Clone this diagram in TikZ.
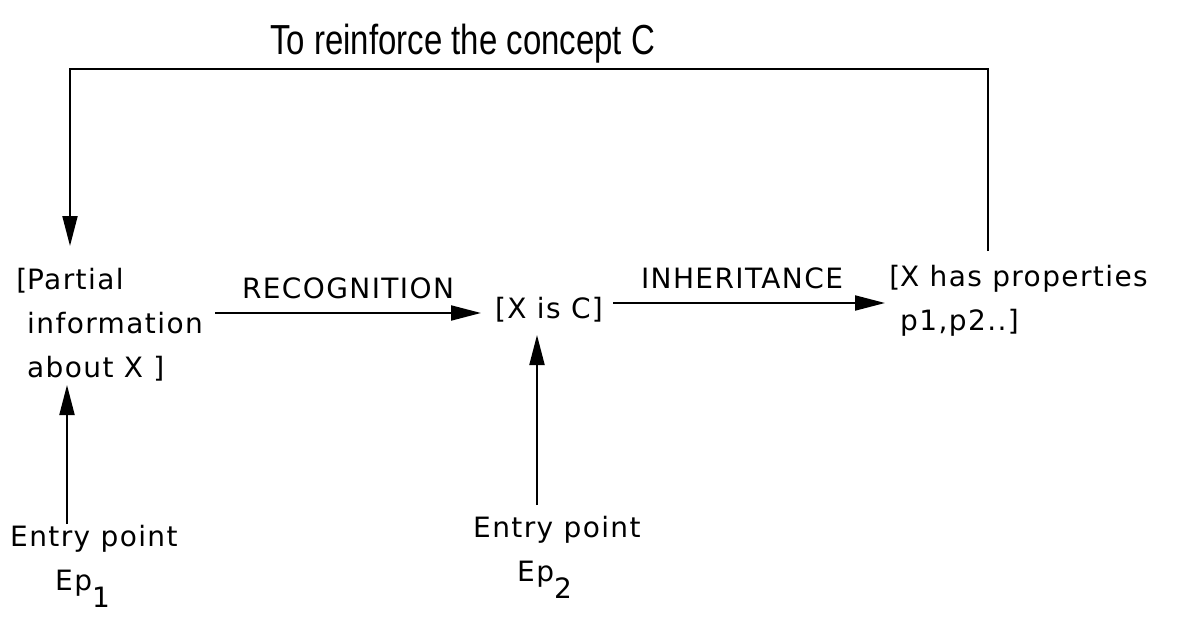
\documentclass[tikz,border=0pt]{standalone}
\usepackage{fontspec}
\setmainfont{DejaVu Sans}[LetterSpace=5]
\newfontfamily\titlefont{Liberation Sans}
\usetikzlibrary{arrows.meta}
\tikzset{
  lbl/.style={inner sep=0pt, font=\fontsize{28}{44}\selectfont},
  arr/.style={line width=2pt, -{Triangle[length=30pt,width=15pt]}},
}
\begin{document}
\begin{tikzpicture}[x=1pt,y=-1pt]
\path[use as bounding box, fill=white] (0,0) rectangle (1187,618);
\node[lbl, anchor=base west, font=\titlefont\fontsize{42}{50}\selectfont] (title) at (270,55) {\scalebox{0.785}[1]{To reinforce the concept C}};
\node[lbl, anchor=base west, align=left] (pi) at (27,377) {\llap{[}Partial\\information\\about X ]};
\node[lbl, anchor=base west] (xc) at (495,318) {[X is C]};
\node[lbl, anchor=base west, align=left] (prop) at (900,330) {\llap{[}X has properties\\p1,p2..]};
\node[lbl, anchor=base] (recog) at (348,298) {RECOGNITION};
\node[lbl, anchor=base] (inh) at (742,288) {INHERITANCE};
\node[lbl, anchor=base west, align=left] (ep1) at (10,590) {Entry point\\\hspace*{45pt}Ep\smash{\raisebox{-17pt}{1}}};
\node[lbl, anchor=base west, align=left] (ep2) at (473,581) {Entry point\\\hspace*{44pt}Ep\smash{\raisebox{-17pt}{2}}};
% connector end points
\coordinate (fbS) at (988,251);
\coordinate (fbR) at (988,69);
\coordinate (fbL) at (70,69);
\coordinate (fbE) at (70,246);
\coordinate (rS) at (215,313);
\coordinate (rE) at (481,313);
\coordinate (iS) at (613,303);
\coordinate (iE) at (885,303);
\coordinate (e1S) at (67,524);
\coordinate (e1E) at (67,385);
\coordinate (e2S) at (537,505);
\coordinate (e2E) at (537,335);
\draw[arr] (fbS) -- (fbR) -- (fbL) -- (fbE);
\draw[arr] (rS) -- (rE);
\draw[arr] (iS) -- (iE);
\draw[arr] (e1S) -- (e1E);
\draw[arr] (e2S) -- (e2E);
\end{tikzpicture}
\end{document}
